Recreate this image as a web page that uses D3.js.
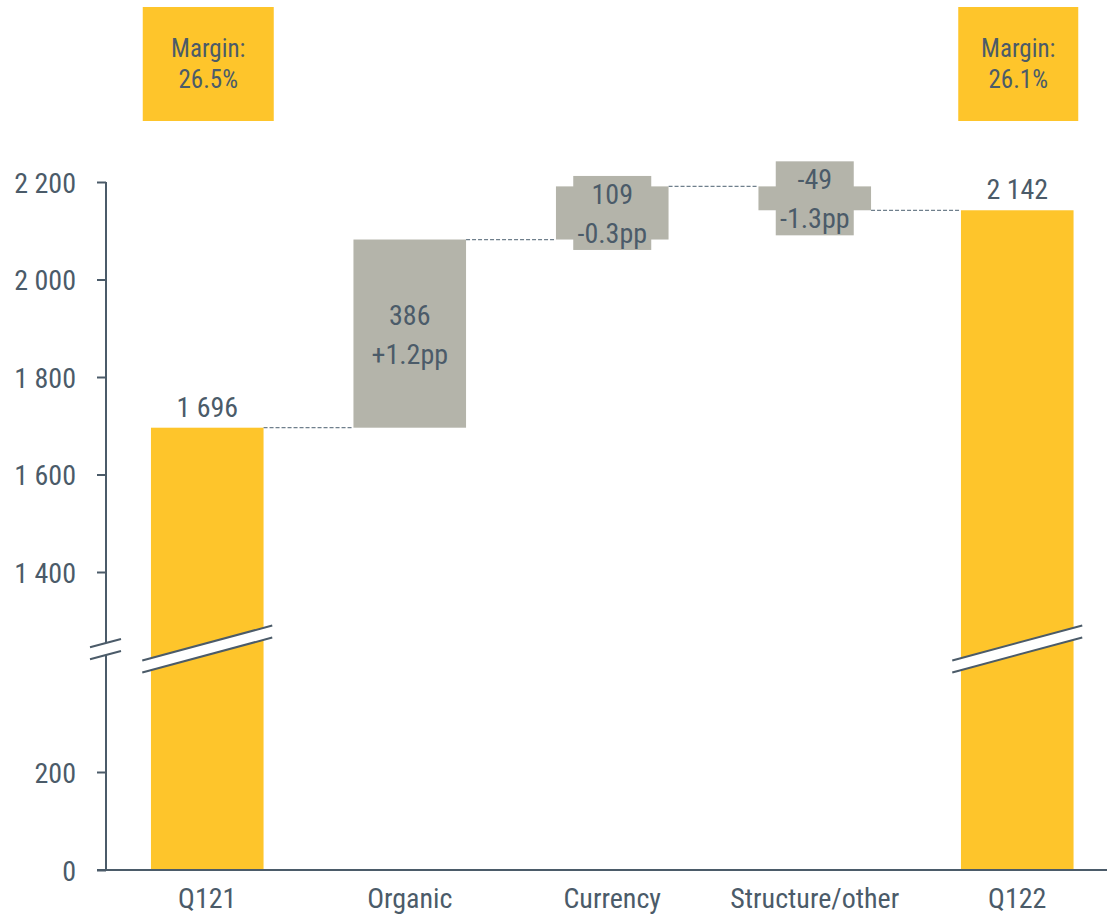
<!DOCTYPE html>
<html>
<head>
<meta charset="utf-8">
<script src="https://cdn.jsdelivr.net/npm/d3@7"></script>
<style>
  html, body { margin: 0; padding: 0; background: #fff; }
  svg { display: block; }
  text { font-family: "Liberation Sans Narrow", "Arial Narrow", "Roboto Condensed", "Liberation Sans", sans-serif; fill: #4b5b69; }
</style>
</head>
<body>
<svg id="chart" width="1107" height="916"></svg>
<script>
// Operating result bridge, Q121 -> Q122
const categories = ["Q121", "Organic", "Currency", "Structure/other", "Q122"];
const kinds      = ["total", "delta", "delta", "delta", "total"];
const values     = [1696, 386, 109, -49, 2142];
const marginPp   = ["", "+1.2pp", "-0.3pp", "-1.3pp", ""];
const marginText = ["26.5%", "", "", "", "26.1%"];
const upperTicks = [1400, 1600, 1800, 2000, 2200];
const lowerTicks = [0, 200];

const YELLOW = "#fec52b", GREY = "#b4b4aa", INK = "#4b5b69";
const FS = "28px";

const svg = d3.select("#chart");
const fmt = d3.formatLocale({ decimal: ".", thousands: " ", grouping: [3], currency: ["", ""], minus: "-" }).format(",");

// Band scale for the five steps
const x = d3.scaleBand().domain(categories).range([106, 1118.5]).paddingInner(0.444).paddingOuter(0.222);

// Broken value axis: upper part for the bridge, lower part near zero
const yHi = d3.scaleLinear().domain([1400, 2200]).range([572, 182]);
const yLo = d3.scaleLinear().domain([0, 200]).range([870, 772]);
const breakTop = 643, breakBot = 655;
const y = v => v >= 1000 ? yHi(v) : yLo(v);

// Running totals for the bridge
let run = 0;
const steps = categories.map((c, i) => {
  let lo, hi;
  if (kinds[i] === "total") { lo = 0; hi = values[i]; run = values[i]; }
  else { const start = run; run += values[i]; lo = Math.min(start, run); hi = Math.max(start, run); }
  return { c, i, kind: kinds[i], v: values[i], lo, hi, end: run };
});

// Dashed connectors between neighbouring bars
const conn = svg.append("g");
steps.slice(0, -1).forEach((s, k) => {
  const n = steps[k + 1];
  conn.append("line")
    .attr("x1", x(s.c) + x.bandwidth()).attr("x2", x(n.c))
    .attr("y1", y(s.end)).attr("y2", y(s.end))
    .attr("stroke", "#6f7f8c").attr("stroke-width", 1.2).attr("stroke-dasharray", "4,2");
});

// Bars
svg.append("g").selectAll("rect").data(steps).join("rect")
  .attr("x", d => x(d.c)).attr("width", x.bandwidth())
  .attr("y", d => y(d.hi)).attr("height", d => y(d.lo) - y(d.hi))
  .attr("fill", d => d.kind === "total" ? YELLOW : GREY);

// Grey label boxes for the small deltas
const smallSteps = steps.filter(d => d.kind === "delta" && Math.abs(y(d.lo) - y(d.hi)) < 80);
svg.append("g").selectAll("rect").data(smallSteps).join("rect")
  .attr("x", d => x(d.c) + x.bandwidth() / 2 - 39).attr("width", 78)
  .attr("y", d => (y(d.lo) + y(d.hi)) / 2 - 37).attr("height", 74)
  .attr("fill", GREY);

// Delta labels: value and margin impact
const dl = svg.append("g").attr("text-anchor", "middle").style("font-size", FS);
steps.filter(d => d.kind === "delta").forEach(d => {
  const cx = x(d.c) + x.bandwidth() / 2;
  const mid = (y(d.lo) + y(d.hi)) / 2;
  dl.append("text").attr("x", cx).attr("y", mid - 9).text(fmt(d.v));
  dl.append("text").attr("x", cx).attr("y", mid + 30).text(marginPp[d.i]);
});

// Total labels above the yellow bars
svg.append("g").attr("text-anchor", "middle").style("font-size", FS)
  .selectAll("text").data(steps.filter(d => d.kind === "total")).join("text")
  .attr("x", d => x(d.c) + x.bandwidth() / 2).attr("y", d => y(d.hi) - 11)
  .text(d => fmt(d.v));

// Margin boxes at the top
const boxW = { "Q121": 131, "Q122": 120 };
const mb = svg.append("g");
steps.filter(d => d.kind === "total").forEach(d => {
  const cx = x(d.c) + x.bandwidth() / 2 + 1;
  const w = boxW[d.c];
  mb.append("rect").attr("x", cx - w / 2).attr("y", 7).attr("width", w).attr("height", 114).attr("fill", YELLOW);
  const t = mb.append("g").attr("text-anchor", "middle").style("font-size", "25px");
  t.append("text").attr("x", cx).attr("y", 57).text("Margin:");
  t.append("text").attr("x", cx).attr("y", 88).text(marginText[d.i]);
});

// Break marks across the tall bars
const slope = -35 / 130;
steps.filter(d => d.kind === "total").forEach(d => {
  const cx = x(d.c) + x.bandwidth() / 2;
  const x0 = cx - 65, x1 = cx + 65;
  const yA0 = breakTop - slope * 65, yA1 = breakTop + slope * 65;
  const yB0 = breakBot - slope * 65, yB1 = breakBot + slope * 65;
  svg.append("path")
    .attr("d", `M${x0},${yA0}L${x1},${yA1}L${x1},${yB1}L${x0},${yB0}Z`)
    .attr("fill", "#fff");
  [[yA0, yA1], [yB0, yB1]].forEach(([a, b]) =>
    svg.append("line").attr("x1", x0).attr("x2", x1).attr("y1", a).attr("y2", b)
      .attr("stroke", INK).attr("stroke-width", 2));
});

// Value axis (two segments)
const axisX = 106;
const axG = svg.append("g").attr("transform", `translate(${axisX},0)`);
const styleAxis = g => {
  g.select(".domain").remove();
  g.selectAll(".tick line").attr("stroke", INK).attr("stroke-width", 2);
  g.selectAll(".tick text").style("font-size", FS).attr("fill", INK).attr("dy", "0.36em");
};
axG.append("g").call(d3.axisLeft(yHi).tickValues(upperTicks).tickSize(9).tickPadding(21).tickFormat(fmt)).call(styleAxis);
axG.append("g").call(d3.axisLeft(yLo).tickValues(lowerTicks).tickSize(9).tickPadding(21).tickFormat(fmt)).call(styleAxis);
axG.append("line").attr("x1", 0).attr("x2", 0).attr("y1", yHi(2200)).attr("y2", breakTop).attr("stroke", INK).attr("stroke-width", 2);
axG.append("line").attr("x1", 0).attr("x2", 0).attr("y1", breakBot).attr("y2", yLo(0)).attr("stroke", INK).attr("stroke-width", 2);
[breakTop, breakBot].forEach(b =>
  axG.append("line").attr("x1", -16).attr("x2", 15)
    .attr("y1", b - 16 * slope).attr("y2", b + 15 * slope)
    .attr("stroke", INK).attr("stroke-width", 2));

// Category axis
const xg = svg.append("g").attr("transform", `translate(0,${yLo(0)})`)
  .call(d3.axisBottom(x).tickSize(0).tickPadding(0));
xg.select(".domain").remove();
xg.selectAll(".tick text").style("font-size", FS).attr("fill", INK).attr("y", 38).attr("dy", 0);
svg.append("line").attr("x1", 97).attr("x2", 1107).attr("y1", yLo(0)).attr("y2", yLo(0))
  .attr("stroke", INK).attr("stroke-width", 2);
</script>
</body>
</html>
